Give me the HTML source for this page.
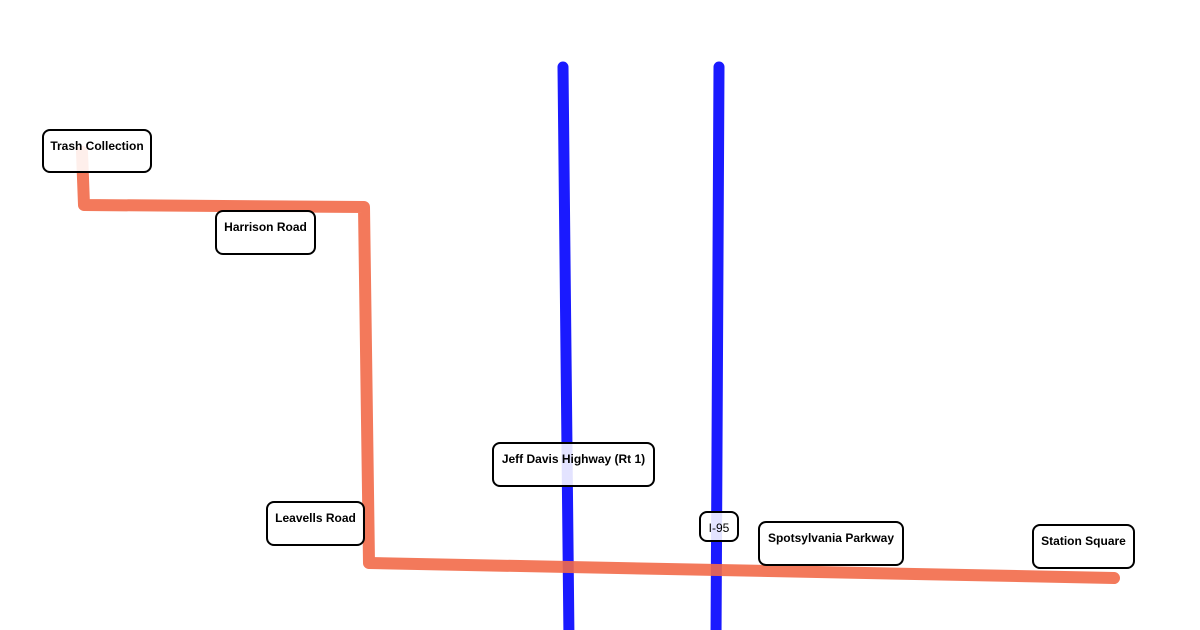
<!DOCTYPE html>
<html><head><style>
body{margin:0;width:1200px;height:630px;overflow:hidden;background:#fff;font-family:"Liberation Sans",Arial,sans-serif}
.b{position:absolute;box-sizing:border-box;border:2px solid #000;border-radius:8px;background:rgba(255,255,255,0.88);font-size:12px;font-weight:bold;color:#000;text-align:center;padding-top:8px;white-space:nowrap}
</style></head><body>
<svg width="1200" height="630" style="position:absolute;left:0;top:0">
<g fill="none" stroke-linecap="round" stroke-linejoin="round">
<path d="M563 67 L569 640" stroke="#1a1aff" stroke-width="11"/>
<path d="M719 67 L716 640" stroke="#1a1aff" stroke-width="11"/>
<path d="M82 152 L84 205 L364 207 L369 563 L1114 578" stroke="#f26a49" stroke-opacity="0.9" stroke-width="12"/>
</g>
</svg>
<div class="b" style="left:42px;top:129px;width:110px;height:44px">Trash Collection</div>
<div class="b" style="left:215px;top:210px;width:101px;height:45px">Harrison Road</div>
<div class="b" style="left:266px;top:501px;width:99px;height:45px">Leavells Road</div>
<div class="b" style="left:492px;top:442px;width:163px;height:45px">Jeff Davis Highway (Rt 1)</div>
<div class="b" style="left:699px;top:511px;width:40px;height:31px;font-weight:normal">I-95</div>
<div class="b" style="left:758px;top:521px;width:146px;height:45px">Spotsylvania Parkway</div>
<div class="b" style="left:1032px;top:524px;width:103px;height:45px">Station Square</div>
</body></html>
